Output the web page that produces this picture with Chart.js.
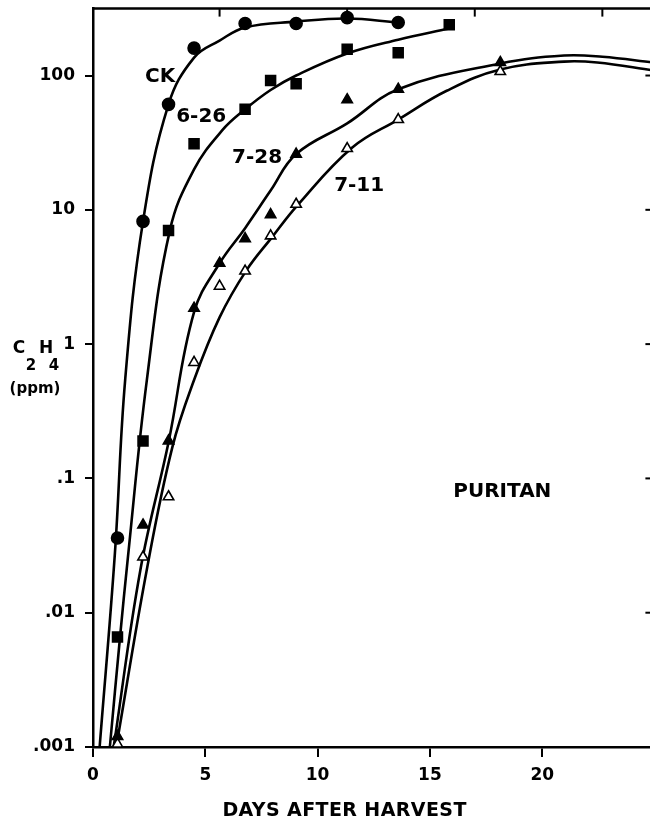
<!DOCTYPE html>
<html>
<head>
<meta charset="utf-8">
<title>Puritan C2H4</title>
<script src="https://cdn.jsdelivr.net/npm/chart.js@4.4.1/dist/chart.umd.min.js"></script>
<style>
  html, body { margin: 0; padding: 0; background: #fff; overflow: hidden; }
  #wrap { width: 662px; height: 830px; }
</style>
</head>
<body>
<div id="wrap"><canvas id="chart" width="662" height="830"></canvas></div>
<script>
// measured points (days after harvest, ppm)
const ckDays = [1, 2, 3, 4, 6, 8, 10, 12];
const ckPpm = [0.036, 8.2, 61, 160, 244, 244, 270, 248];
const jun26Days = [1, 2, 3, 4, 6, 7, 8, 10, 12, 14];
const jun26Ppm = [0.0066, 0.19, 7.0, 31, 56, 92, 87, 157, 148, 239];
const jul28Days = [1, 2, 3, 4, 5, 6, 7, 8, 10, 12, 16];
const jul28Ppm = [0.0012, 0.045, 0.19, 1.85, 4.0, 6.1, 9.2, 26, 66, 79, 125];
const jul11Days = [1, 2, 3, 4, 5, 6, 7, 8, 10, 12, 16];
const jul11Ppm = [0.00105, 0.026, 0.073, 0.73, 2.7, 3.5, 6.4, 11, 28.6, 47, 107];

// hand drawn curves
const ckCurveDays = [0.3, 0.9, 1.3, 2.0, 3.0, 4.0, 5.0, 6.0, 8.0, 10.0, 12.0];
const ckCurvePpm = [0.001, 0.028, 0.54, 8.2, 61, 136, 182, 228, 252, 266, 248];
const jun26CurveDays = [0.7, 1.1, 1.4, 2.15, 3.05, 4.0, 5.1, 6.0, 7.0, 8.0, 10.0, 12.0, 14.0];
const jun26CurvePpm = [0.001, 0.0066, 0.025, 0.54, 7.0, 20, 39, 56, 78, 100, 146, 185, 224];
const jul28CurveDays = [0.85, 1.9, 3.0, 4.0, 5.0, 6.0, 7.0, 8.0, 10.0, 12.0, 16.0, 18.5, 20.0, 22.0];
const jul28CurvePpm = [0.001, 0.021, 0.186, 1.73, 4.0, 7.3, 13.9, 26, 44, 79, 123, 141, 138, 125];
const jul11CurveDays = [0.95, 2.15, 3.15, 4.0, 5.0, 6.05, 7.05, 8.05, 10.2, 12.0, 13.9, 16.0, 18.5, 19.8, 22.0];
const jul11CurvePpm = [0.001, 0.021, 0.171, 0.54, 1.58, 3.54, 6.24, 10.8, 29.1, 47, 77, 111, 127, 125, 109];

const xTicks = [0, 5, 10, 15, 20];
const yTicks = [0.001, 0.01, 0.1, 1, 10, 100];
const yTickLabels = ['.001', '.01', '.1', '1', '10', '100'];

function pts(xs, ys) {
  return xs.map((d, i) => ({ x: d, y: ys[i] }));
}

function curve(xs, ys) {
  return {
    data: pts(xs, ys),
    xAxisID: 'xTop',
    showLine: true,
    borderColor: '#000',
    borderWidth: 2.6,
    pointRadius: 0,
    tension: 0.4,
    order: 2
  };
}

function marks(xs, ys, style, radius, fill) {
  return {
    data: pts(xs, ys),
    xAxisID: 'xTop',
    showLine: false,
    pointStyle: style,
    pointRadius: radius,
    pointBackgroundColor: fill,
    pointBorderColor: '#000',
    pointBorderWidth: 1.6,
    order: 1
  };
}

const notes = [
  { text: 'CK', day: 2.67, ppm: 98 },
  { text: '6-26', day: 4.28, ppm: 49 },
  { text: '7-28', day: 6.47, ppm: 24.5 },
  { text: '7-11', day: 10.47, ppm: 15.2 },
  { text: 'PURITAN', day: 16.08, ppm: 0.079 }
];

const paper = {
  id: 'paper',
  afterDraw(chart) {
    const { ctx, chartArea: a, scales } = chart;
    const top = scales.xTop, y = scales.y, xb = scales.x;
    ctx.save();
    ctx.strokeStyle = '#000';
    ctx.lineWidth = 2.5;
    ctx.beginPath();
    ctx.moveTo(a.left, a.top);
    ctx.lineTo(a.right, a.top);
    ctx.lineTo(a.right, a.bottom);
    ctx.stroke();

    // inward ticks on top and right
    ctx.lineWidth = 2;
    top.ticks.forEach(t => {
      if (t.value <= 0) return;
      const px = top.getPixelForValue(t.value);
      ctx.beginPath();
      ctx.moveTo(px, a.top);
      ctx.lineTo(px, a.top + 8);
      ctx.stroke();
    });
    y.ticks.forEach(t => {
      if (t.value <= 0.001) return;
      const py = y.getPixelForValue(t.value);
      ctx.beginPath();
      ctx.moveTo(a.right, py);
      ctx.lineTo(a.right - 8, py);
      ctx.stroke();
    });

    ctx.fillStyle = '#000';
    ctx.textAlign = 'center';
    ctx.textBaseline = 'middle';
    ctx.font = 'bold 20px "DejaVu Sans"';
    notes.forEach(n => {
      ctx.fillText(n.text, top.getPixelForValue(n.day), y.getPixelForValue(n.ppm));
    });

    // y axis title  C2H4 (ppm)
    ctx.font = 'bold 17px "DejaVu Sans"';
    ctx.fillText('C', 19, 349);
    ctx.fillText('H', 46, 349);
    ctx.font = 'bold 15px "DejaVu Sans"';
    ctx.fillText('2', 31, 366);
    ctx.fillText('4', 54, 366);
    ctx.fillText('(ppm)', 35, 389);

    // x axis title
    ctx.font = 'bold 19px "DejaVu Sans"';
    ctx.letterSpacing = '0.4px';
    ctx.fillText('DAYS AFTER HARVEST', xb.getPixelForValue(11.2), 811);
    ctx.restore();
  }
};

new Chart(document.getElementById('chart'), {
  type: 'scatter',
  data: {
    datasets: [
      curve(ckCurveDays, ckCurvePpm),
      curve(jun26CurveDays, jun26CurvePpm),
      curve(jul28CurveDays, jul28CurvePpm),
      curve(jul11CurveDays, jul11CurvePpm),
      marks(ckDays, ckPpm, 'circle', 6, '#000'),
      marks(jun26Days, jun26Ppm, 'rect', 7, '#000'),
      marks(jul28Days, jul28Ppm, 'triangle', 6, '#000'),
      marks(jul11Days, jul11Ppm, 'triangle', 6, '#fff')
    ]
  },
  options: {
    responsive: false,
    animation: false,
    layout: { padding: { top: 8, right: 8, left: 0, bottom: 0 } },
    plugins: { legend: { display: false }, tooltip: { enabled: false } },
    scales: {
      // printed day scale along the bottom edge
      x: {
        type: 'linear',
        position: 'bottom',
        min: 0,
        max: 24.95,
        afterFit: s => { s.height = 83; s.paddingLeft = 0; s.paddingRight = 0; },
        afterBuildTicks: s => { s.ticks = xTicks.map(v => ({ value: v })); },
        border: { display: true, color: '#000', width: 2.5 },
        grid: { display: true, drawOnChartArea: false, drawTicks: true, tickLength: 10, color: '#000', lineWidth: 2 },
        ticks: { color: '#000', padding: 8, font: { family: 'DejaVu Sans', size: 17, weight: 'bold' } }
      },
      // day scale the points are plotted on (ticks along the top edge)
      xTop: {
        type: 'linear',
        position: 'top',
        display: false,
        min: 0.04,
        max: 22.0,
        afterBuildTicks: s => { s.ticks = xTicks.map(v => ({ value: v })); }
      },
      y: {
        type: 'logarithmic',
        position: 'left',
        min: 0.001,
        max: 315,
        afterFit: s => { s.width = 93; s.paddingTop = 0; s.paddingBottom = 0; },
        afterBuildTicks: s => { s.ticks = yTicks.map(v => ({ value: v })); },
        border: { display: true, color: '#000', width: 2.5 },
        grid: { display: true, drawOnChartArea: false, drawTicks: true, tickLength: 8, color: '#000', lineWidth: 2 },
        ticks: {
          color: '#000',
          padding: 10,
          font: { family: 'DejaVu Sans', size: 17, weight: 'bold' },
          callback: (v, i) => yTickLabels[i]
        }
      }
    }
  },
  plugins: [paper]
});
</script>
</body>
</html>
